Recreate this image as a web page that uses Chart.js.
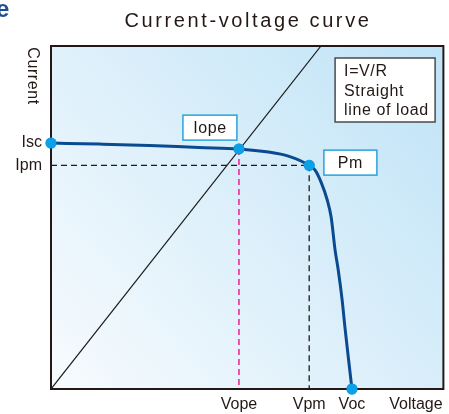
<!DOCTYPE html>
<html>
<head>
<meta charset="utf-8">
<script src="https://cdn.jsdelivr.net/npm/chart.js@4.4.1/dist/chart.umd.min.js"></script>
<style>
  html, body { margin: 0; padding: 0; background: #ffffff; }
  #wrap { width: 449px; height: 414px; position: relative; }
</style>
</head>
<body>
<div id="wrap"><canvas id="c" width="449" height="414"></canvas></div>
<script>
// ---- Data (arbitrary units 0..100) ----
const curveVoltage = [0, 12.4, 25.1, 37.7, 47.8, 55.4, 60.5, 65.8, 67.3, 68.9, 70.4, 71.4, 72.4, 73.2, 74.2, 74.9, 75.7, 76.7];
const curveCurrent = [71.7, 71.4, 71.0, 70.4, 70.0, 69.1, 67.9, 65.2, 63.8, 60.1, 55.1, 50.1, 40.5, 34.7, 25.9, 18.1, 9.9, 0];
const loadVoltage = [0, 68.8];
const loadCurrent = [0, 100];
const keyNames = ['Isc', 'Iope', 'Pm', 'Voc'];
const keyVoltage = [0, 47.9, 65.8, 76.7];
const keyCurrent = [71.7, 70.0, 65.2, 0];
const xTickValues = [47.9, 65.8, 76.7, 93.0];
const xTickLabels = ['Vope', 'Vpm', 'Voc', 'Voltage'];
const yTickValues = [71.7, 65.2];
const yTickLabels = ['Isc', 'Ipm'];
const titleText = 'Current-voltage curve';
const yAxisTitle = 'Current';
const loadNote = ['I=V/R', 'Straight', 'line of load'];

const FONT = '"Liberation Sans", Arial, sans-serif';
const INK = '#231815';

const pts = (xs, ys) => xs.map((x, i) => ({ x, y: ys[i] }));

const ipm = keyCurrent[2], vpm = keyVoltage[2], vope = keyVoltage[1], iope = keyCurrent[1];

const datasets = [
  { label: 'load', data: pts(loadVoltage, loadCurrent), borderColor: '#1a1a1a', borderWidth: 1.2, pointRadius: 0, showLine: true, fill: false },
  { label: 'ipm-h', data: pts([0, vpm], [ipm, ipm]), borderColor: INK, borderWidth: 1.3, borderDash: [6, 4], pointRadius: 0, showLine: true },
  { label: 'vpm-v', data: pts([vpm, vpm], [ipm, 0]), borderColor: INK, borderWidth: 1.3, borderDash: [6, 4], pointRadius: 0, showLine: true },
  { label: 'vope-v', data: pts([vope, vope], [iope, 0]), borderColor: '#e6007e', borderWidth: 1.3, borderDash: [6, 4], pointRadius: 0, showLine: true },
  { label: 'iv', data: pts(curveVoltage, curveCurrent), borderColor: '#0a4a91', borderWidth: 3, pointRadius: 0, showLine: true, cubicInterpolationMode: 'monotone' },
  { label: 'keys', data: pts(keyVoltage, keyCurrent), pointRadius: 5.5, pointBackgroundColor: '#0ea0e6', pointBorderWidth: 0, showLine: false, clip: false }
];

const bgPlugin = {
  id: 'bg',
  beforeDraw(chart) {
    const { ctx, chartArea: a } = chart;
    const g = ctx.createLinearGradient(a.left, a.bottom, a.right, a.top);
    g.addColorStop(0, '#f7fbfe');
    g.addColorStop(0.55, '#d9eefa');
    g.addColorStop(1, '#bfe3f7');
    ctx.save();
    ctx.fillStyle = g;
    ctx.fillRect(a.left, a.top, a.right - a.left, a.bottom - a.top);
    ctx.restore();
  }
};

function box(ctx, x, y, w, h, stroke) {
  ctx.fillStyle = '#ffffff';
  ctx.fillRect(x, y, w, h);
  ctx.strokeStyle = stroke;
  ctx.lineWidth = 1.5;
  ctx.strokeRect(x, y, w, h);
}

const decoPlugin = {
  id: 'deco',
  afterDatasetsDraw(chart) {
    const { ctx, chartArea: a, scales: { x, y } } = chart;
    ctx.save();
    // frame
    ctx.strokeStyle = INK;
    ctx.lineWidth = 2;
    ctx.strokeRect(a.left, a.top, a.right - a.left, a.bottom - a.top);
    // redraw key points on top of frame
    const meta = chart.getDatasetMeta(5);
    ctx.fillStyle = '#0ea0e6';
    meta.data.forEach(p => { ctx.beginPath(); ctx.arc(p.x, p.y, 5.5, 0, Math.PI * 2); ctx.fill(); });

    ctx.font = '16px ' + FONT;
    ctx.letterSpacing = '0.6px';
    ctx.textBaseline = 'middle';
    ctx.textAlign = 'center';
    // Iope label box
    let cx = x.getPixelForValue(40.5), cy = y.getPixelForValue(76.2);
    box(ctx, cx - 27, cy - 12.5, 54, 25, '#29a3dc');
    ctx.fillStyle = INK; ctx.fillText(keyNames[1], cx, cy + 1);
    // Pm label box
    cx = x.getPixelForValue(76.3); cy = y.getPixelForValue(66.0);
    box(ctx, cx - 26.5, cy - 12.5, 53, 25, '#29a3dc');
    ctx.fillStyle = INK; ctx.fillText(keyNames[2], cx, cy + 1);
    // Load line note
    const lx = x.getPixelForValue(72.4), ly = y.getPixelForValue(96.5);
    box(ctx, lx, ly, 100, 64, '#4a4a4a');
    ctx.fillStyle = INK; ctx.textAlign = 'left';
    loadNote.forEach((t, i) => ctx.fillText(t, lx + 9, ly + 14 + i * 19.5));

    // y axis title (rotated clockwise)
    ctx.save();
    ctx.translate(32.5, a.top + 30);
    ctx.rotate(Math.PI / 2);
    ctx.textAlign = 'center';
    ctx.fillText(yAxisTitle, 0, 0);
    ctx.restore();

    // title
    ctx.font = '20px ' + FONT;
    ctx.letterSpacing = '2.6px';
    ctx.textAlign = 'center';
    ctx.textBaseline = 'alphabetic';
    ctx.fillStyle = INK;
    ctx.fillText(titleText, 248, 27);
    // cut-off heading fragment at top-left
    ctx.letterSpacing = '0px';
    ctx.font = 'bold 24px ' + FONT;
    ctx.fillStyle = '#1d4f91';
    ctx.textAlign = 'left';
    ctx.fillText('e', -4, 17);
    ctx.restore();
  }
};

new Chart(document.getElementById('c'), {
  type: 'scatter',
  data: { datasets },
  options: {
    responsive: false,
    animation: false,
    events: [],
    layout: { padding: { top: 46, left: 0, right: 3, bottom: 0 } },
    plugins: { legend: { display: false }, tooltip: { enabled: false }, title: { display: false } },
    scales: {
      x: {
        type: 'linear', min: 0, max: 100,
        grid: { display: false, drawTicks: false },
        border: { display: false },
        afterFit(s) { s.height = 25; },
        afterBuildTicks(s) { s.ticks = xTickValues.map(v => ({ value: v })); },
        ticks: {
          autoSkip: false, maxRotation: 0, padding: 6, color: INK,
          font: { family: FONT, size: 16 },
          callback: (v, i) => xTickLabels[i]
        }
      },
      y: {
        type: 'linear', min: 0, max: 100,
        grid: { display: false, drawTicks: false },
        border: { display: false },
        afterFit(s) { s.width = 51; },
        afterBuildTicks(s) { s.ticks = yTickValues.map(v => ({ value: v })); },
        ticks: {
          autoSkip: false, padding: 9, color: INK,
          font: { family: FONT, size: 16 },
          callback: (v, i) => yTickLabels[i]
        }
      }
    }
  },
  plugins: [bgPlugin, decoPlugin]
});
</script>
</body>
</html>
